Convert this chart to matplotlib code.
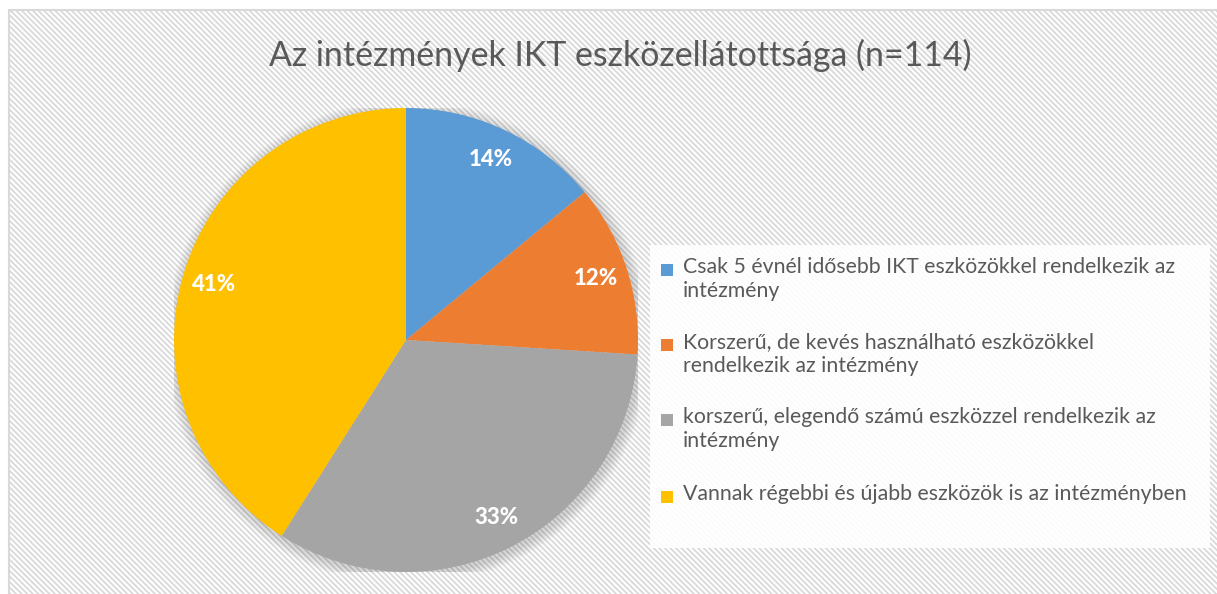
import numpy as np
import matplotlib
matplotlib.use("Agg")
import matplotlib.pyplot as plt
from matplotlib.patches import Rectangle, Circle

plt.rcParams['font.family'] = ['Lato', 'DejaVu Sans']
plt.rcParams['hatch.linewidth'] = 1.3
plt.rcParams['hatch.color'] = '#f2f2f2'

title = "Az intézmények IKT eszközellátottsága (n=114)"
labels = [
    "Csak 5 évnél idősebb IKT eszközökkel rendelkezik az\nintézmény",
    "Korszerű, de kevés használható eszközökkel\nrendelkezik az intézmény",
    "korszerű, elegendő számú eszközzel rendelkezik az\nintézmény",
    "Vannak régebbi és újabb eszközök is az intézményben",
]
shares = [14, 12, 33, 41]
colors = ['#5b9bd5', '#ed7d31', '#a5a5a5', '#ffc000']

W, H = 1217, 594
fig = plt.figure(figsize=(W / 100, H / 100), dpi=100)
fig.patch.set_facecolor('white')

# chart area with light diagonal stripes
bg = Rectangle((9 / W, -0.01), 1, 1 - 10 / H + 0.01, transform=fig.transFigure,
               facecolor='white', edgecolor='#d9d9d9', lw=1.5,
               hatch='\\\\\\\\\\\\', zorder=-5)
fig.add_artist(bg)

fig.text(620 / W, 1 - 55 / H, title, ha='center', va='center',
         fontsize=24.4, color='#595959')

# pie axes: centre (406, 340), radius 232 px
cx, cy, r = 406, 340, 232
ax = fig.add_axes([(cx - r) / W, 1 - (cy + r) / H, 2 * r / W, 2 * r / H])
ax.patch.set_visible(False)

# soft shadow around the pie
for i in range(8):
    ax.add_patch(Circle((0.008, -0.012), 1.0 + 0.006 * (i + 1), color='#000000',
                        alpha=0.02, lw=0, zorder=0))

wedges, texts, autotexts = ax.pie(
    shares, colors=colors, startangle=90, counterclock=False, radius=1,
    autopct='%1.0f%%', pctdistance=0.86,
    wedgeprops=dict(linewidth=0),
    textprops=dict(color='white', fontsize=16, fontweight='black'))
ax.set_xlim(-1, 1)
ax.set_ylim(-1, 1)
ax.set_aspect('auto')
ax.axis('off')

# legend box, drawn by hand so the marker sits on the first text line
fig.add_artist(Rectangle((650 / W, 1 - 548 / H), 560 / W, 303 / H,
                         transform=fig.transFigure, facecolor='white',
                         edgecolor='none', alpha=0.9, zorder=1))
first_line_y = [270, 345, 420, 497]
for lab, col, yy in zip(labels, colors, first_line_y):
    fig.add_artist(Rectangle((661 / W, 1 - (yy + 6) / H), 12 / W, 12 / H,
                             transform=fig.transFigure, facecolor=col,
                             edgecolor='none', zorder=2))
    fig.text(683 / W, 1 - (yy - 13) / H, lab, ha='left', va='top',
             fontsize=15.3, color='#595959', linespacing=1.27, zorder=2)

fig.savefig('out.png', dpi=100)
